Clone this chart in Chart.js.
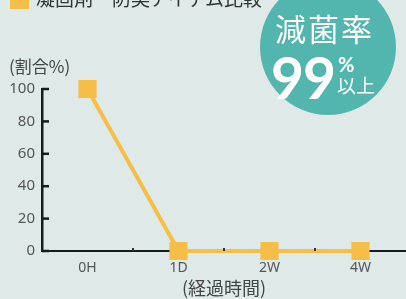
<!DOCTYPE html>
<html>
<head>
<meta charset="utf-8">
<script src="https://cdn.jsdelivr.net/npm/chart.js@4.4.1/dist/chart.umd.min.js"></script>
<style>
  html, body { margin: 0; padding: 0; }
  body { width: 406px; height: 299px; overflow: hidden; background: #dfe9e7; position: relative;
         font-family: "Noto Sans CJK JP", "Noto Sans", sans-serif; }
  #wrap { position: absolute; left: 0; top: 0; width: 406px; height: 299px; }
  .legend { position: absolute; left: 10px; top: -16px; font-size: 19px; color: #333; white-space: nowrap; }
  .legend i { display: inline-block; width: 19px; height: 19px; background: #f5be47; vertical-align: -3px; margin-right: 7px; }
  .badge { position: absolute; left: 260px; top: -21px; width: 136px; height: 136px; border-radius: 50%; background: #52b5ae; color: #fff; }
  .badge .t1 { position: absolute; left: 15px; top: 33px; font-size: 31px; letter-spacing: 2px; line-height: 1; }
  .badge .t2 { position: absolute; left: 11px; top: 70px; font-size: 57px; font-weight: bold; line-height: 1; font-family: "Lato", sans-serif; letter-spacing: -1px; }
  .badge .t3 { position: absolute; left: 78px; top: 75px; font-size: 20px; font-weight: bold; line-height: 1; font-family: "Lato", sans-serif; }
  .badge .t4 { position: absolute; left: 77px; top: 96px; font-size: 19px; line-height: 1; }
  .ylabel { position: absolute; left: 9px; top: 53px; font-size: 17px; color: #444; }
</style>
</head>
<body>
<div id="wrap"><canvas id="chart" width="406" height="299"></canvas></div>
<div class="legend"><i></i>凝固剤・防臭アイテム比較</div>
<div class="badge"><span class="t1">減菌率</span><span class="t2">99</span><span class="t3">%</span><span class="t4">以上</span></div>
<div class="ylabel">(割合%)</div>
<script>
const categories = ['0H', '1D', '2W', '4W'];
const ratio = [100, 0, 0, 0];
const yTicks = [0, 20, 40, 60, 80, 100];

// short tick marks pointing into the plot, like the printed chart
const innerTicks = {
    id: 'innerTicks',
    afterDraw(chart) {
        const { ctx, scales: { x, y } } = chart;
        ctx.save();
        ctx.strokeStyle = '#1a1a1a';
        ctx.lineWidth = 2.5;
        yTicks.forEach(v => {
            const py = y.getPixelForValue(v);
            ctx.beginPath();
            ctx.moveTo(x.left, py);
            ctx.lineTo(x.left + 7, py);
            ctx.stroke();
        });
        ctx.fillStyle = '#333';
        for (let i = 1; i < categories.length; i++) {
            const px = (x.getPixelForValue(i - 1) + x.getPixelForValue(i)) / 2;
            ctx.fillRect(px - 1, y.bottom - 3, 2, 3);
        }
        ctx.restore();
    }
};

new Chart(document.getElementById('chart'), {
    type: 'line',
    data: {
        labels: categories,
        datasets: [{
            data: ratio,
            borderColor: '#f5be47',
            backgroundColor: '#f5be47',
            borderWidth: 4,
            pointStyle: 'rect',
            pointRadius: 10,
            pointHoverRadius: 10,
            tension: 0,
            clip: false
        }]
    },
    options: {
        responsive: false,
        animation: false,
        events: [],
        layout: { autoPadding: false, padding: { top: 89, right: 0, left: 0, bottom: 0 } },
        plugins: { legend: { display: false }, tooltip: { enabled: false } },
        scales: {
            x: {
                offset: true,
                grid: { display: false, drawTicks: false },
                border: { color: '#1a1a1a', width: 2 },
                ticks: { color: '#555', font: { size: 14, family: 'Noto Sans' }, padding: 9 },
                title: { display: true, text: '(経過時間)', color: '#444', font: { size: 18, family: 'Noto Sans CJK JP' }, padding: { top: 0, bottom: 0 } },
                afterFit: s => { s.height = 48; }
            },
            y: {
                min: 0,
                max: 100,
                afterBuildTicks: s => { s.ticks = yTicks.map(v => ({ value: v })); },
                grid: { display: false, drawTicks: false },
                border: { color: '#1a1a1a', width: 2.5 },
                ticks: { color: '#555', font: { size: 15, family: 'Noto Sans' }, padding: 7 },
                afterFit: s => { s.width = 42; }
            }
        }
    },
    plugins: [innerTicks]
});
</script>
</body>
</html>
